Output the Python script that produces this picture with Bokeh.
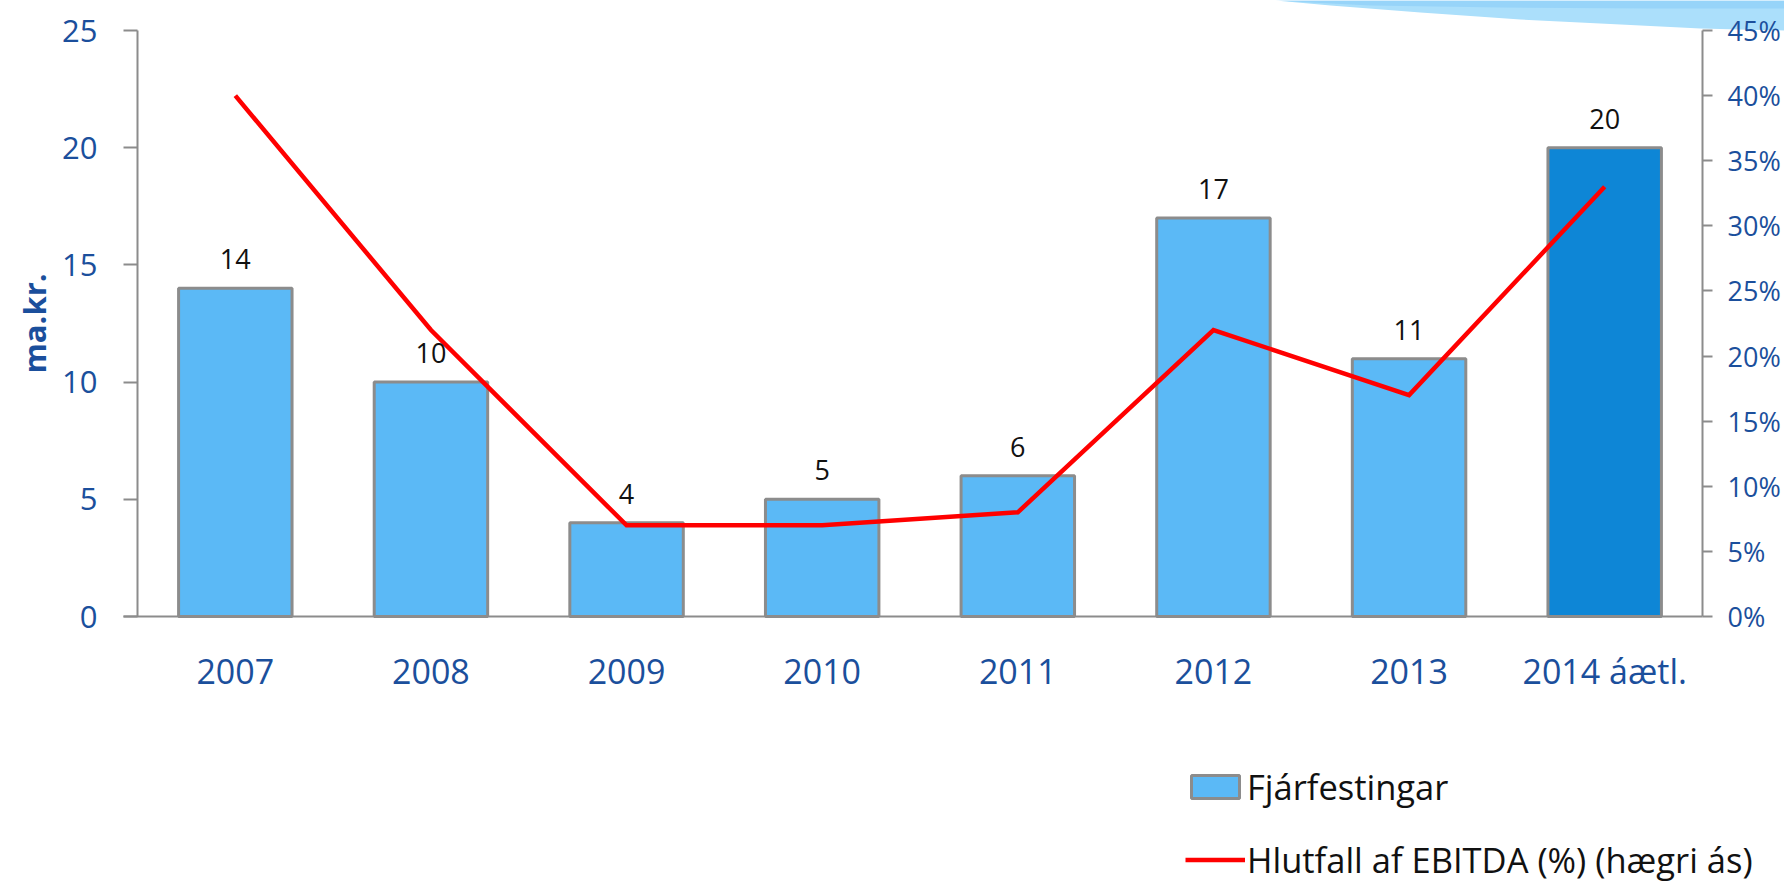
from bokeh.plotting import figure
from bokeh.models import (ColumnDataSource, Range1d, LinearAxis, FixedTicker,
                          Legend, LegendItem, PolyAnnotation, PrintfTickFormatter)
from bokeh.core.properties import value
from bokeh.embed import file_html
from bokeh.resources import INLINE

# ---- data ----
categories = ["2007", "2008", "2009", "2010", "2011", "2012", "2013", "2014 áætl."]
investments = [14, 10, 4, 5, 6, 17, 11, 20]          # ma.kr.
ebitda_pct = [40, 22, 7, 7, 8, 22, 17, 33]            # % (right axis)
left_ticks = [0, 5, 10, 15, 20, 25]
right_ticks = [0, 5, 10, 15, 20, 25, 30, 35, 40, 45]
series_bar = "Fjárfestingar"
series_line = "Hlutfall af EBITDA (%) (hægri ás)"
y_title = "ma.kr."

# ---- styles ----
FONT = "Open Sans"
BLUE_TXT = "#1B4F9C"
AXIS_GRAY = "#8C8C8C"
BAR_LIGHT = "#5BB9F6"
BAR_DARK = "#0E86D6"
RED = "#FF0000"

W, H = 1784, 886
# pixel layout of the plotting area inside the canvas
AX_L, AX_R, AX_T, AX_B = 137, 1702, 30, 616

n = len(categories)
xs = [i + 0.5 for i in range(n)]
bar_colors = [BAR_DARK if i == n - 1 else BAR_LIGHT for i in range(n)]

src = ColumnDataSource(dict(
    x=xs, cat=categories, val=investments, pct=ebitda_pct,
    lbl=[str(v) for v in investments], color=bar_colors,
))

# the frame covers the whole canvas; axes are pinned with fixed_location
px_cat = (AX_R - AX_L) / n
x_start = -AX_L / px_cat
x_end = n + (W - AX_R) / px_cat
px_y = (AX_B - AX_T) / 25
y_start = -(H - AX_B) / px_y
y_end = 25 + AX_T / px_y
px_p = (AX_B - AX_T) / 45
p_start = -(H - AX_B) / px_p
p_end = 45 + AX_T / px_p

p = figure(width=W, height=H, x_range=Range1d(x_start, x_end),
           y_range=Range1d(y_start, y_end), output_backend="svg", toolbar_location=None,
           min_border_left=0, min_border_right=0, min_border_top=0, min_border_bottom=0,
           x_axis_location=None, y_axis_location=None)
p.extra_y_ranges = {"pct": Range1d(p_start, p_end)}
p.outline_line_color = None
p.xgrid.grid_line_color = None
p.ygrid.grid_line_color = None
p.background_fill_color = "white"
p.border_fill_color = "white"

# decorative swoosh at top right (behind everything)
p.add_layout(PolyAnnotation(
    xs=[1275, 1330, 1420, 1520, 1620, 1700, 1784, 1784],
    ys=[0, 5, 12, 19, 24, 28, 30, 0],
    xs_units="canvas", ys_units="canvas", level="underlay",
    fill_color="#ABDFFB", fill_alpha=1, line_color=None))
p.add_layout(PolyAnnotation(
    xs=[1278, 1310, 1370, 1500, 1650, 1784, 1784],
    ys=[0, 2, 5, 7, 8, 8, 0],
    xs_units="canvas", ys_units="canvas", level="underlay",
    fill_color="#97D4F9", fill_alpha=1, line_color=None))

bars = p.vbar(x="x", top="val", width=0.58, source=src, fill_color="color",
              line_color=AXIS_GRAY, line_width=3)
line = p.line(x="x", y="pct", source=src, y_range_name="pct", line_color=RED,
              line_width=4.5, line_join="miter")
p.text(x="x", y="val", text="lbl", source=src, text_font=value(FONT),
       text_font_size="27px", text_color="#111111", text_align="center",
       text_baseline="alphabetic", y_offset=-29)

def style_axis(ax):
    ax.axis_line_color = AXIS_GRAY
    ax.axis_line_width = 2
    ax.major_tick_line_color = AXIS_GRAY
    ax.major_tick_line_width = 2
    ax.major_tick_in = 0
    ax.minor_tick_line_color = None
    ax.major_label_text_font = FONT
    ax.major_label_text_color = BLUE_TXT

# left axis
ya = LinearAxis(ticker=FixedTicker(ticks=left_ticks), fixed_location=0, bounds=(0, 25))
style_axis(ya)
ya.major_tick_out = 14
ya.major_label_standoff = 26
ya.major_label_text_font_size = "31px"
ya.axis_label = y_title
ya.axis_label_text_font = FONT
ya.axis_label_text_font_style = "bold"
ya.axis_label_text_font_size = "31px"
ya.axis_label_text_color = BLUE_TXT
ya.axis_label_standoff = 4
p.add_layout(ya, "left")

# right axis
ra = LinearAxis(y_range_name="pct", ticker=FixedTicker(ticks=right_ticks),
                formatter=PrintfTickFormatter(format="%d%%"), fixed_location=n, bounds=(0, 45))
style_axis(ra)
ra.major_tick_out = 10
ra.major_label_standoff = 15
ra.major_label_text_font_size = "27px"
p.add_layout(ra, "right")

# x axis
xa = LinearAxis(ticker=FixedTicker(ticks=xs), fixed_location=0,
                bounds=(-14 / px_cat, n),
                major_label_overrides={x: c for x, c in zip(xs, categories)})
style_axis(xa)
xa.major_tick_line_color = None
xa.major_tick_out = 0
xa.major_label_standoff = 31
xa.major_label_text_font_size = "34px"
p.add_layout(xa, "below")

# legend below the chart (frame covers the full canvas, so coords are canvas-based)
legend = Legend(items=[LegendItem(label=series_bar, renderers=[bars]),
                       LegendItem(label=series_line, renderers=[line])],
                location=(1185, 3), orientation="vertical",
                glyph_width=60, glyph_height=29, label_height=45, spacing=26,
                label_standoff=2, padding=0, margin=0,
                label_text_font=FONT, label_text_font_size="34.5px", label_text_color="#111111",
                border_line_color=None, background_fill_alpha=0)
p.add_layout(legend, "center")

open("out.html", "w").write(file_html(p, INLINE))
